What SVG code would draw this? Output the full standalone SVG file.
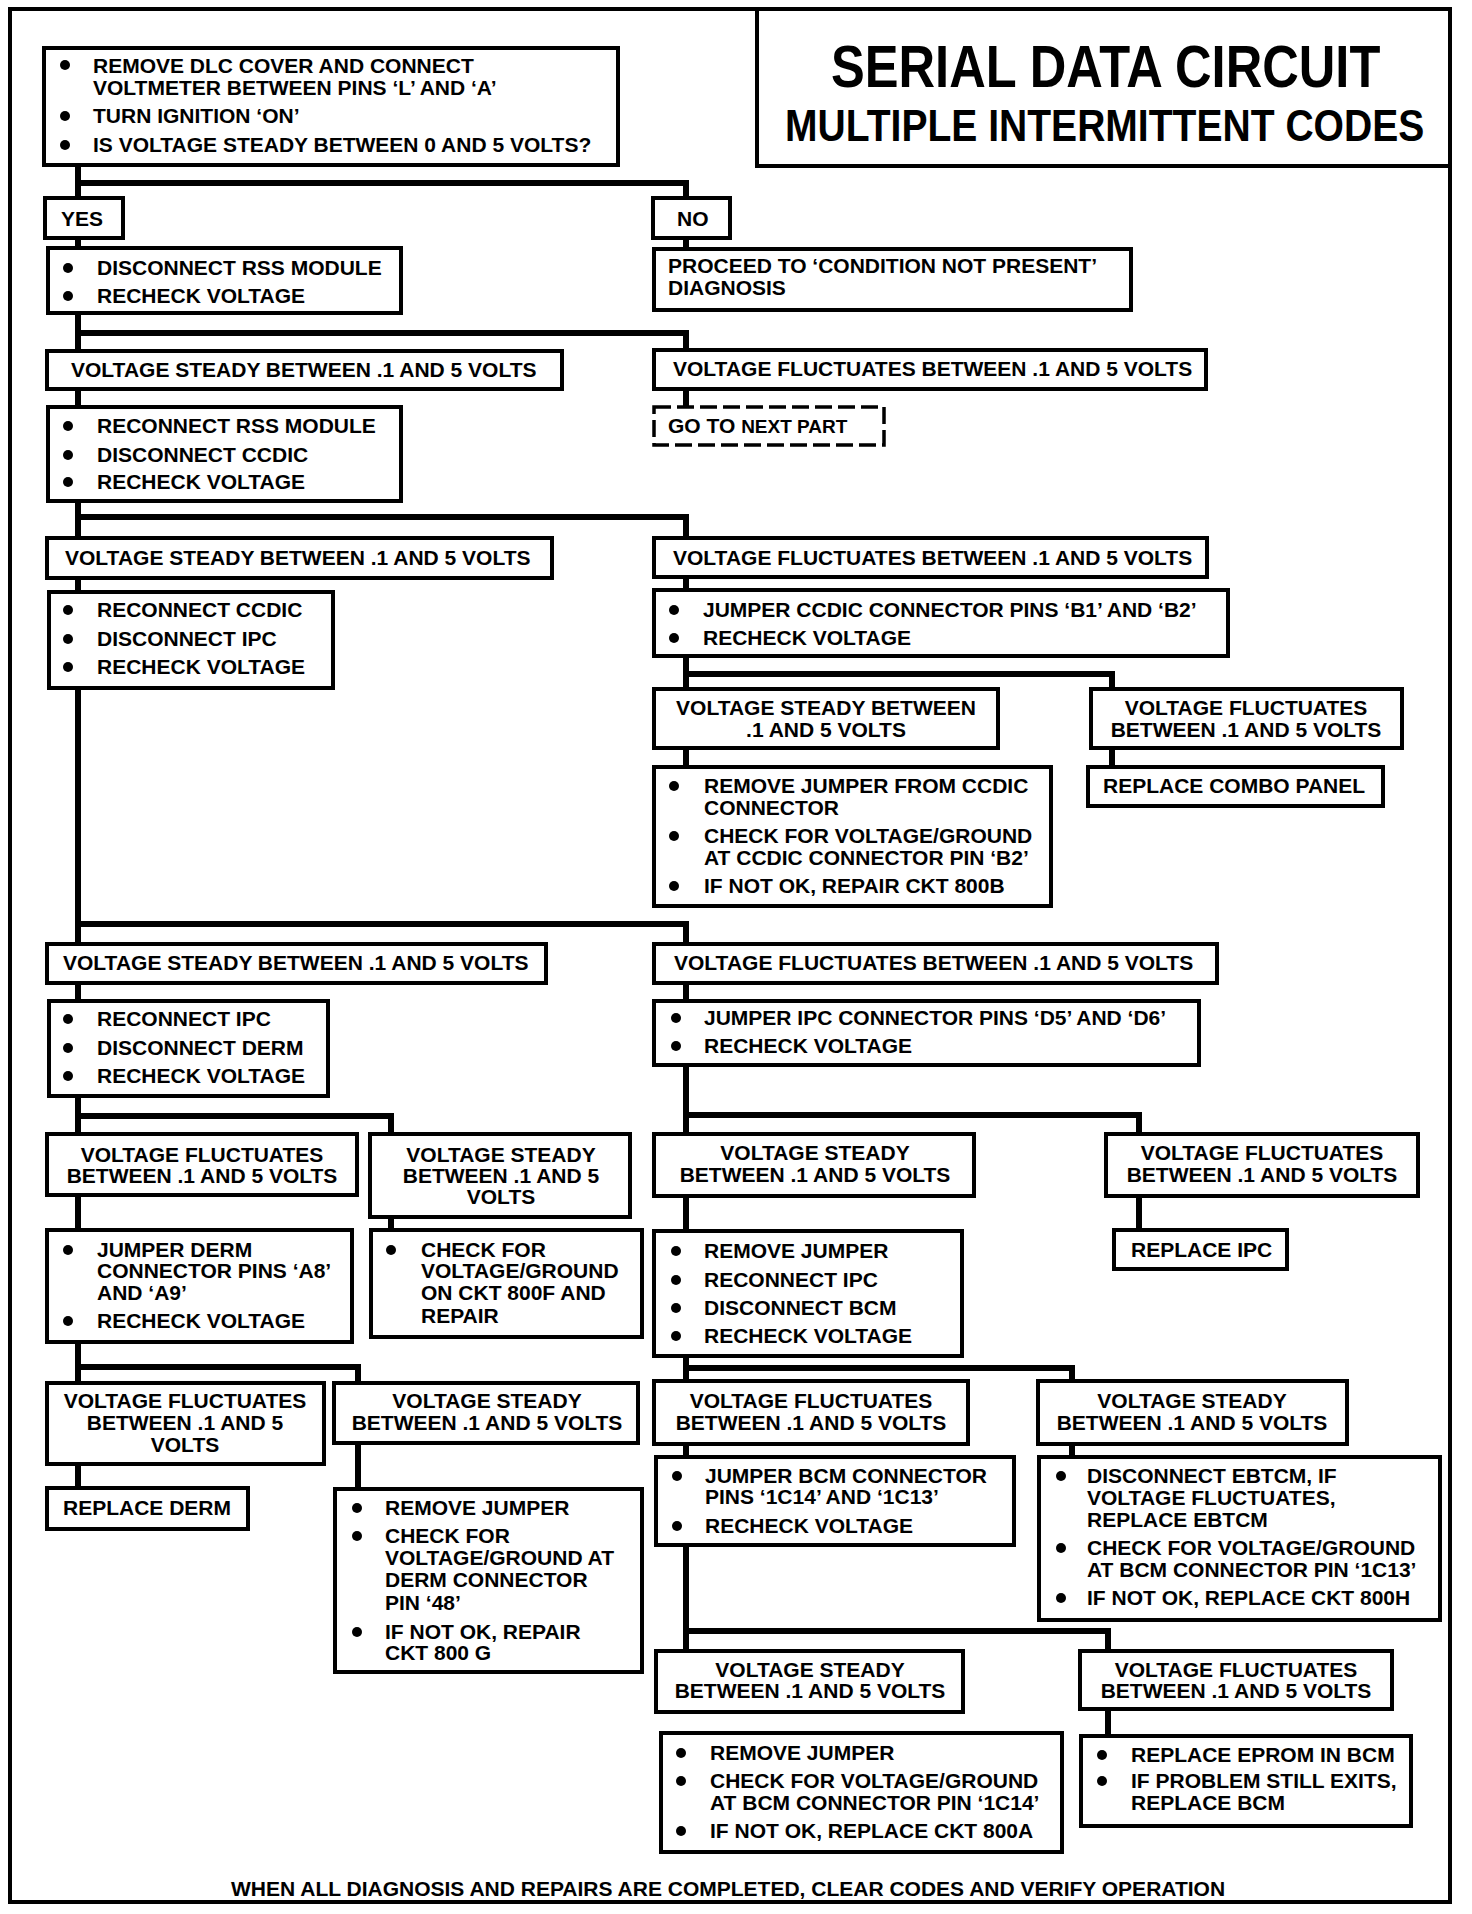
<svg xmlns="http://www.w3.org/2000/svg" width="1472" height="1914" viewBox="0 0 1472 1914">
<style>
text{font-family:"Liberation Sans",Arial,Helvetica,sans-serif;font-weight:bold;font-size:21px;fill:#000}
.c{text-anchor:middle}
.box{fill:#fff;stroke:#000;stroke-width:4}
.dash{fill:#fff;stroke:#000;stroke-width:3.5;stroke-dasharray:17 6}
.frame{fill:none;stroke:#000;stroke-width:4}
.conn path{fill:none;stroke:#000;stroke-width:6;stroke-linejoin:miter}
circle{fill:#000}
</style>
<rect x="0" y="0" width="1472" height="1914" fill="#fff"/>
<rect class="frame" x="10" y="9" width="1440" height="1893"/>
<g id="title">
<rect class="frame" x="757" y="9" width="693" height="157"/>
<text transform="translate(831,87) scale(0.858,1)" x="0" y="0" style="font-size:59px">SERIAL DATA CIRCUIT</text>
<text transform="translate(785,141) scale(0.868,1)" x="0" y="0" style="font-size:45px">MULTIPLE INTERMITTENT CODES</text>
</g>
<g id="connectors" class="conn">
<path d="M78 166V198M78 239V248M78 313V351M78 389V407M78 501V538M78 578V592M78 688V944M78 983V1001M78 1096V1134M78 1195V1230M78 1342V1383M78 1464V1488"/>
<path d="M78 183H686V198M686 238V249"/>
<path d="M78 333H686V350M686 389V407"/>
<path d="M78 517H686V538M686 577V590M686 656V689M686 674H1112V689M686 748V767M1112 748V767"/>
<path d="M78 924H686V944M686 983V1001M686 1065V1134M686 1115H1139V1134M686 1196V1231M1139 1196V1230"/>
<path d="M78 1116H391V1134M391 1217V1230"/>
<path d="M78 1367H358V1383M358 1443V1489"/>
<path d="M686 1356V1381M686 1368H1072V1381M686 1444V1457M1072 1444V1457"/>
<path d="M686 1545V1651M686 1631H1108V1651M1108 1709V1736"/>
</g>
<g id="n1">
<rect class="box" x="44" y="48" width="574" height="117"/>
<circle cx="65" cy="65" r="5"/><text x="93" y="73">REMOVE DLC COVER AND CONNECT</text>
<text x="93" y="95">VOLTMETER BETWEEN PINS ‘L’ AND ‘A’</text>
<circle cx="65" cy="116" r="5"/><text x="93" y="123">TURN IGNITION ‘ON’</text>
<circle cx="65" cy="145" r="5"/><text x="93" y="152">IS VOLTAGE STEADY BETWEEN 0 AND 5 VOLTS?</text>
</g>
<g id="yes"><rect class="box" x="45" y="198" width="78" height="40"/><text x="61" y="226">YES</text></g>
<g id="no"><rect class="box" x="653" y="198" width="77" height="40"/><text x="677" y="226">NO</text></g>
<g id="rss">
<rect class="box" x="48" y="248" width="353" height="65"/>
<circle cx="68" cy="268" r="5"/><text x="97" y="275">DISCONNECT RSS MODULE</text>
<circle cx="68" cy="296" r="5"/><text x="97" y="303">RECHECK VOLTAGE</text>
</g>
<g id="proceed">
<rect class="box" x="654" y="249" width="477" height="61"/>
<text x="668" y="273">PROCEED TO ‘CONDITION NOT PRESENT’</text>
<text x="668" y="295">DIAGNOSIS</text>
</g>
<g id="v1"><rect class="box" x="47" y="351" width="515" height="38"/><text x="71" y="377">VOLTAGE STEADY BETWEEN .1 AND 5 VOLTS</text></g>
<g id="f1"><rect class="box" x="654" y="350" width="552" height="39"/><text x="673" y="376">VOLTAGE FLUCTUATES BETWEEN .1 AND 5 VOLTS</text></g>
<g id="goto"><rect class="dash" x="654" y="407" width="230" height="38"/><text x="668" y="433">GO TO <tspan style="font-size:19px">NEXT PART</tspan></text></g>
<g id="ccdic">
<rect class="box" x="48" y="407" width="353" height="94"/>
<circle cx="68" cy="426" r="5"/><text x="97" y="433">RECONNECT RSS MODULE</text>
<circle cx="68" cy="455" r="5"/><text x="97" y="462">DISCONNECT CCDIC</text>
<circle cx="68" cy="482" r="5"/><text x="97" y="489">RECHECK VOLTAGE</text>
</g>
<g id="v2"><rect class="box" x="47" y="538" width="505" height="40"/><text x="65" y="565">VOLTAGE STEADY BETWEEN .1 AND 5 VOLTS</text></g>
<g id="ipc1">
<rect class="box" x="49" y="592" width="284" height="96"/>
<circle cx="68" cy="610" r="5"/><text x="97" y="617">RECONNECT CCDIC</text>
<circle cx="68" cy="639" r="5"/><text x="97" y="646">DISCONNECT IPC</text>
<circle cx="68" cy="667" r="5"/><text x="97" y="674">RECHECK VOLTAGE</text>
</g>
<g id="f2"><rect class="box" x="654" y="538" width="553" height="39"/><text x="673" y="565">VOLTAGE FLUCTUATES BETWEEN .1 AND 5 VOLTS</text></g>
<g id="jccdic">
<rect class="box" x="654" y="590" width="574" height="66"/>
<circle cx="674" cy="610" r="5"/><text x="703" y="617">JUMPER CCDIC CONNECTOR PINS ‘B1’ AND ‘B2’</text>
<circle cx="674" cy="638" r="5"/><text x="703" y="645">RECHECK VOLTAGE</text>
</g>
<g id="v3a"><rect class="box" x="654" y="689" width="344" height="59"/><text class="c" x="826" y="715">VOLTAGE STEADY BETWEEN</text><text class="c" x="826" y="737">.1 AND 5 VOLTS</text></g>
<g id="f3a"><rect class="box" x="1091" y="689" width="311" height="59"/><text class="c" x="1246" y="715">VOLTAGE FLUCTUATES</text><text class="c" x="1246" y="737">BETWEEN .1 AND 5 VOLTS</text></g>
<g id="remj1">
<rect class="box" x="654" y="767" width="397" height="139"/>
<circle cx="674" cy="786" r="5"/><text x="704" y="793">REMOVE JUMPER FROM CCDIC</text>
<text x="704" y="815">CONNECTOR</text>
<circle cx="674" cy="836" r="5"/><text x="704" y="843">CHECK FOR VOLTAGE/GROUND</text>
<text x="704" y="865">AT CCDIC CONNECTOR PIN ‘B2’</text>
<circle cx="674" cy="886" r="5"/><text x="704" y="893">IF NOT OK, REPAIR CKT 800B</text>
</g>
<g id="combo"><rect class="box" x="1088" y="767" width="295" height="39"/><text x="1103" y="793">REPLACE COMBO PANEL</text></g>
<g id="v4"><rect class="box" x="47" y="944" width="499" height="39"/><text x="63" y="970">VOLTAGE STEADY BETWEEN .1 AND 5 VOLTS</text></g>
<g id="f4"><rect class="box" x="654" y="944" width="563" height="39"/><text x="674" y="970">VOLTAGE FLUCTUATES BETWEEN .1 AND 5 VOLTS</text></g>
<g id="derm1">
<rect class="box" x="49" y="1001" width="279" height="95"/>
<circle cx="68" cy="1019" r="5"/><text x="97" y="1026">RECONNECT IPC</text>
<circle cx="68" cy="1048" r="5"/><text x="97" y="1055">DISCONNECT DERM</text>
<circle cx="68" cy="1076" r="5"/><text x="97" y="1083">RECHECK VOLTAGE</text>
</g>
<g id="jipc">
<rect class="box" x="654" y="1001" width="545" height="64"/>
<circle cx="676" cy="1018" r="5"/><text x="704" y="1025">JUMPER IPC CONNECTOR PINS ‘D5’ AND ‘D6’</text>
<circle cx="676" cy="1046" r="5"/><text x="704" y="1053">RECHECK VOLTAGE</text>
</g>
<g id="f5a"><rect class="box" x="47" y="1134" width="310" height="61"/><text class="c" x="202" y="1162">VOLTAGE FLUCTUATES</text><text class="c" x="202" y="1183">BETWEEN .1 AND 5 VOLTS</text></g>
<g id="v5a"><rect class="box" x="370" y="1134" width="260" height="83"/><text class="c" x="501" y="1162">VOLTAGE STEADY</text><text class="c" x="501" y="1183">BETWEEN .1 AND 5</text><text class="c" x="501" y="1204">VOLTS</text></g>
<g id="v5b"><rect class="box" x="654" y="1134" width="320" height="62"/><text class="c" x="815" y="1160">VOLTAGE STEADY</text><text class="c" x="815" y="1182">BETWEEN .1 AND 5 VOLTS</text></g>
<g id="f5b"><rect class="box" x="1106" y="1134" width="312" height="62"/><text class="c" x="1262" y="1160">VOLTAGE FLUCTUATES</text><text class="c" x="1262" y="1182">BETWEEN .1 AND 5 VOLTS</text></g>
<g id="jderm">
<rect class="box" x="47" y="1230" width="305" height="112"/>
<circle cx="68" cy="1250" r="5"/><text x="97" y="1257">JUMPER DERM</text>
<text x="97" y="1278">CONNECTOR PINS ‘A8’</text>
<text x="97" y="1300">AND ‘A9’</text>
<circle cx="68" cy="1321" r="5"/><text x="97" y="1328">RECHECK VOLTAGE</text>
</g>
<g id="c800f">
<rect class="box" x="371" y="1230" width="271" height="107"/>
<circle cx="391" cy="1250" r="5"/><text x="421" y="1257">CHECK FOR</text>
<text x="421" y="1278">VOLTAGE/GROUND</text>
<text x="421" y="1300">ON CKT 800F AND</text>
<text x="421" y="1323">REPAIR</text>
</g>
<g id="bcm">
<rect class="box" x="654" y="1231" width="308" height="125"/>
<circle cx="676" cy="1251" r="5"/><text x="704" y="1258">REMOVE JUMPER</text>
<circle cx="676" cy="1280" r="5"/><text x="704" y="1287">RECONNECT IPC</text>
<circle cx="676" cy="1308" r="5"/><text x="704" y="1315">DISCONNECT BCM</text>
<circle cx="676" cy="1336" r="5"/><text x="704" y="1343">RECHECK VOLTAGE</text>
</g>
<g id="ripc"><rect class="box" x="1114" y="1230" width="173" height="39"/><text x="1131" y="1257">REPLACE IPC</text></g>
<g id="f6a"><rect class="box" x="47" y="1383" width="277" height="81"/><text class="c" x="185" y="1408">VOLTAGE FLUCTUATES</text><text class="c" x="185" y="1430">BETWEEN .1 AND 5</text><text class="c" x="185" y="1452">VOLTS</text></g>
<g id="v6a"><rect class="box" x="334" y="1383" width="304" height="60"/><text class="c" x="487" y="1408">VOLTAGE STEADY</text><text class="c" x="487" y="1430">BETWEEN .1 AND 5 VOLTS</text></g>
<g id="f6b"><rect class="box" x="654" y="1381" width="314" height="63"/><text class="c" x="811" y="1408">VOLTAGE FLUCTUATES</text><text class="c" x="811" y="1430">BETWEEN .1 AND 5 VOLTS</text></g>
<g id="v6b"><rect class="box" x="1038" y="1381" width="309" height="63"/><text class="c" x="1192" y="1408">VOLTAGE STEADY</text><text class="c" x="1192" y="1430">BETWEEN .1 AND 5 VOLTS</text></g>
<g id="rderm"><rect class="box" x="47" y="1488" width="201" height="41"/><text x="63" y="1515">REPLACE DERM</text></g>
<g id="c800g">
<rect class="box" x="335" y="1489" width="307" height="183"/>
<circle cx="357" cy="1508" r="5"/><text x="385" y="1515">REMOVE JUMPER</text>
<circle cx="357" cy="1536" r="5"/><text x="385" y="1543">CHECK FOR</text>
<text x="385" y="1565">VOLTAGE/GROUND AT</text>
<text x="385" y="1587">DERM CONNECTOR</text>
<text x="385" y="1610">PIN ‘48’</text>
<circle cx="357" cy="1632" r="5"/><text x="385" y="1639">IF NOT OK, REPAIR</text>
<text x="385" y="1660">CKT 800 G</text>
</g>
<g id="jbcm">
<rect class="box" x="656" y="1457" width="358" height="88"/>
<circle cx="677" cy="1476" r="5"/><text x="705" y="1483">JUMPER BCM CONNECTOR</text>
<text x="705" y="1504">PINS ‘1C14’ AND ‘1C13’</text>
<circle cx="677" cy="1526" r="5"/><text x="705" y="1533">RECHECK  VOLTAGE</text>
</g>
<g id="ebtcm">
<rect class="box" x="1039" y="1457" width="401" height="163"/>
<circle cx="1061" cy="1476" r="5"/><text x="1087" y="1483">DISCONNECT EBTCM, IF</text>
<text x="1087" y="1505">VOLTAGE FLUCTUATES,</text>
<text x="1087" y="1527">REPLACE EBTCM</text>
<circle cx="1061" cy="1548" r="5"/><text x="1087" y="1555">CHECK FOR VOLTAGE/GROUND</text>
<text x="1087" y="1577">AT BCM CONNECTOR PIN ‘1C13’</text>
<circle cx="1061" cy="1598" r="5"/><text x="1087" y="1605">IF NOT OK, REPLACE CKT 800H</text>
</g>
<g id="v7"><rect class="box" x="656" y="1651" width="307" height="61"/><text class="c" x="810" y="1677">VOLTAGE STEADY</text><text class="c" x="810" y="1698">BETWEEN .1 AND 5 VOLTS</text></g>
<g id="f7"><rect class="box" x="1080" y="1651" width="312" height="58"/><text class="c" x="1236" y="1677">VOLTAGE FLUCTUATES</text><text class="c" x="1236" y="1698">BETWEEN .1 AND 5 VOLTS</text></g>
<g id="c800a">
<rect class="box" x="661" y="1733" width="401" height="119"/>
<circle cx="681" cy="1753" r="5"/><text x="710" y="1760">REMOVE JUMPER</text>
<circle cx="681" cy="1781" r="5"/><text x="710" y="1788">CHECK FOR VOLTAGE/GROUND</text>
<text x="710" y="1810">AT BCM CONNECTOR PIN ‘1C14’</text>
<circle cx="681" cy="1831" r="5"/><text x="710" y="1838">IF NOT OK, REPLACE CKT 800A</text>
</g>
<g id="eprom">
<rect class="box" x="1081" y="1736" width="330" height="90"/>
<circle cx="1102" cy="1755" r="5"/><text x="1131" y="1762">REPLACE EPROM IN BCM</text>
<circle cx="1102" cy="1781" r="5"/><text x="1131" y="1788">IF PROBLEM STILL EXITS,</text>
<text x="1131" y="1810">REPLACE BCM</text>
</g>
<g id="footer"><text x="231" y="1896">WHEN ALL DIAGNOSIS AND REPAIRS ARE COMPLETED, CLEAR CODES AND VERIFY OPERATION</text></g>
</svg>
